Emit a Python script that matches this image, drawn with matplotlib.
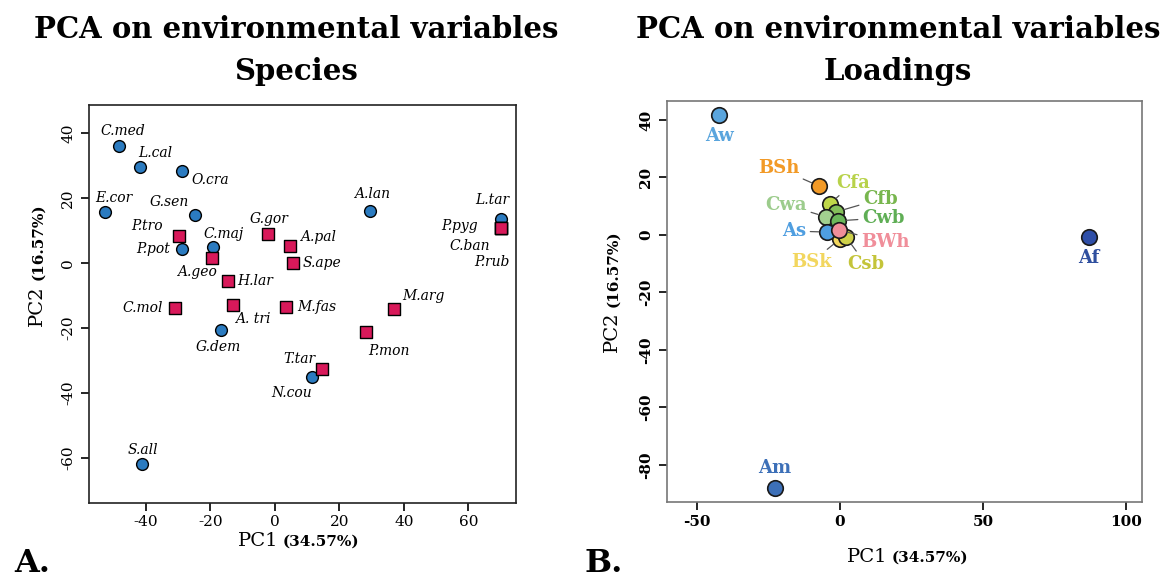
import matplotlib
matplotlib.use("Agg")
import matplotlib.pyplot as plt

# ─── Data: species scores (panel A) ───────────────────────────────────────────
SP_CIRC_NAMES = ["C.med", "L.cal", "O.cra", "E.cor", "G.sen", "P.pot", "C.maj",
                 "G.dem", "N.cou", "S.all", "A.lan", "L.tar"]
SP_CIRC_PC1 = [-48.4, -41.9, -28.9, -52.8, -24.8, -28.9, -19.3,
               -16.8, 11.5, -41.3, 29.5, 70.2]
SP_CIRC_PC2 = [36.0, 29.5, 28.3, 15.7, 14.8, 4.3, 4.9,
               -20.6, -35.1, -61.8, 16.0, 13.5]

SP_SQ_NAMES = ["P.tro", "A.geo", "G.gor", "A.pal", "S.ape", "H.lar", "C.mol",
               "A. tri", "M.fas", "T.tar", "M.arg", "P.mon",
               "P.pyg", "C.ban", "P.rub"]
SP_SQ_PC1 = [-29.8, -19.6, -2.2, 4.7, 5.6, -14.6, -31.1,
             -13.0, 3.4, 14.6, 37.0, 28.3,
             70.2, 70.2, 70.2]
SP_SQ_PC2 = [8.3, 1.5, 8.9, 5.2, 0.0, -5.5, -13.8,
             -12.9, -13.5, -32.6, -14.2, -21.2,
             10.8, 10.8, 10.8]

# ─── Data: loadings (panel B) ─────────────────────────────────────────────────
LD_NAMES = ["Aw", "Am", "Af", "BSh", "Cfa", "Cfb", "Cwa", "Cwb",
            "BSk", "Csb", "As", "BWh"]
LD_PC1 = [-42.3, -22.7, 87.1, -7.3, -3.5, -1.4, -4.9, -0.7,
          0.0, 2.1, -4.5, -0.3]
LD_PC2 = [41.7, -88.0, -0.7, 17.0, 10.8, 8.0, 6.3, 4.9,
          -1.4, -0.7, 1.0, 1.7]

PC1_VAR = "34.57%"
PC2_VAR = "16.57%"

# ─── Style ────────────────────────────────────────────────────────────────────
W, H = 1173, 580
SERIF = "DejaVu Serif"
BLUE = "#2b7bc0"
RED = "#d8195a"
LD_COLORS = {
    "Aw": "#5aa5dd", "Am": "#3d70b8", "Af": "#2f4fa8", "As": "#4f9ee0",
    "BSh": "#f29a27", "BWh": "#f08e9a", "BSk": "#f2d65e", "Csb": "#cfd24a",
    "Cfa": "#c0d84a", "Cfb": "#84c05a", "Cwa": "#a2d08f", "Cwb": "#6bb85a",
}
LD_TEXT = dict(LD_COLORS, Af="#2f4f9f", Csb="#c4c43a", Cfa="#b8d24a",
               Cfb="#78b64e", Cwb="#5fae55", Cwa="#9ccc8c")

# label offsets in pixels (dx, dy up), horizontal alignment
SP_OFF = {
    "C.med": (4, 15, "center"), "L.cal": (15, 14, "center"),
    "O.cra": (10, -9, "left"), "E.cor": (9, 14, "center"),
    "G.sen": (-26, 13, "center"), "P.pot": (-12, 0, "right"),
    "C.maj": (11, 13, "center"), "G.dem": (-2, -17, "center"),
    "N.cou": (-20, -16, "center"), "S.all": (1, 14, "center"),
    "A.lan": (2, 17, "center"), "L.tar": (-9, 19, "center"),
    "P.tro": (-16, 10, "right"), "A.geo": (-15, -14, "center"),
    "G.gor": (1, 15, "center"), "A.pal": (10, 9, "left"),
    "S.ape": (10, 0, "left"), "H.lar": (9, 0, "left"),
    "C.mol": (-12, 0, "right"), "A. tri": (2, -14, "left"),
    "M.fas": (11, 0, "left"), "T.tar": (-23, 10, "center"),
    "M.arg": (29, 13, "center"), "P.mon": (23, -19, "center"),
    "P.pyg": (-42, 2, "center"), "C.ban": (-31, -18, "center"),
    "P.rub": (-9, -34, "center"),
}
LD_OFF = {
    "Aw": (0, -21, "center", False), "Am": (0, 20, "center", False),
    "Af": (0, -21, "center", False),
    "BSh": (-20, 18, "right", True), "Cfa": (6, 21, "left", True),
    "Cfb": (27, 13, "left", True), "Cwa": (-19, 12, "right", True),
    "Cwb": (24, 3, "left", True), "As": (-21, 1, "right", True),
    "BWh": (22, -12, "left", True), "BSk": (-8, -23, "right", True),
    "Csb": (1, -27, "left", True),
}
PT = 72 / 100  # pixels -> points

plt.rcParams["axes.unicode_minus"] = False


def fx(px):
    return px / W


def fy(py):
    return 1 - py / H


def style_axes(ax, edge, bold_ticks):
    for sp in ax.spines.values():
        sp.set_color(edge)
        sp.set_linewidth(1.2)
    ax.tick_params(direction="out", length=6, width=1.2, color="black",
                   labelsize=11, pad=3)
    ax.tick_params(axis="y", labelrotation=90, pad=4)
    for lab in ax.get_yticklabels():
        lab.set_va("center")
    for lab in ax.get_xticklabels() + ax.get_yticklabels():
        lab.set_family(SERIF)
        if bold_ticks:
            lab.set_fontweight("bold")


def axis_labels(fig, x_split, x_base, y_split, y_base):
    fig.text(fx(x_split), fy(x_base), "PC1", ha="right", va="baseline",
             family=SERIF, fontsize=14)
    fig.text(fx(x_split + 5), fy(x_base), f"({PC1_VAR})", ha="left",
             va="baseline", family=SERIF, fontsize=11, fontweight="bold")
    fig.text(fx(y_base), fy(y_split), "PC2", ha="right", va="baseline",
             rotation=90, rotation_mode="anchor", family=SERIF, fontsize=14)
    fig.text(fx(y_base), fy(y_split - 5), f"({PC2_VAR})", ha="left",
             va="baseline", rotation=90, rotation_mode="anchor",
             family=SERIF, fontsize=11, fontweight="bold")


fig = plt.figure(figsize=(W / 100, H / 100), dpi=100)

# ─── Panel A: species ─────────────────────────────────────────────────────────
ax1 = fig.add_axes([fx(89), fy(503), fx(516 - 89), (503 - 105) / H])
ax1.scatter(SP_CIRC_PC1, SP_CIRC_PC2, s=72, marker="o", c=BLUE,
            edgecolors="black", linewidths=1.0, zorder=3)
ax1.scatter(SP_SQ_PC1, SP_SQ_PC2, s=72, marker="s", c=RED,
            edgecolors="black", linewidths=1.0, zorder=4)
for names, xs, ys in [(SP_CIRC_NAMES, SP_CIRC_PC1, SP_CIRC_PC2),
                      (SP_SQ_NAMES, SP_SQ_PC1, SP_SQ_PC2)]:
    for n, x, y in zip(names, xs, ys):
        dx, dy, ha = SP_OFF[n]
        ax1.annotate(n, (x, y), xytext=(dx * PT, dy * PT),
                     textcoords="offset points", ha=ha, va="center",
                     family=SERIF, style="italic", fontsize=10, zorder=5)
ax1.set_xlim(-57.7, 74.8)
ax1.set_ylim(-73.8, 48.6)
ax1.set_xticks([-40, -20, 0, 20, 40, 60])
ax1.set_yticks([-60, -40, -20, 0, 20, 40])
style_axes(ax1, "#222222", False)

# ─── Panel B: loadings ────────────────────────────────────────────────────────
ax2 = fig.add_axes([fx(667), fy(502), fx(1142 - 667), (502 - 101) / H])
for n, x, y in zip(LD_NAMES, LD_PC1, LD_PC2):
    ax2.scatter([x], [y], s=125, marker="o", c=LD_COLORS[n],
                edgecolors="#1a1a1a", linewidths=1.2, zorder=3)
    dx, dy, ha, lead = LD_OFF[n]
    arrow = dict(arrowstyle="-", color="#555555", lw=0.9,
                 shrinkA=1, shrinkB=6) if lead else None
    ax2.annotate(n, (x, y), xytext=(dx * PT, dy * PT),
                 textcoords="offset points", ha=ha, va="center",
                 family=SERIF, fontweight="bold", fontsize=13,
                 color=LD_TEXT[n], arrowprops=arrow, zorder=5)
ax2.set_xlim(-60.5, 105.6)
ax2.set_ylim(-92.9, 46.6)
ax2.set_xticks([-50, 0, 50, 100])
ax2.set_yticks([-80, -60, -40, -20, 0, 20, 40])
style_axes(ax2, "#777777", True)

# ─── Titles, axis labels, panel letters ───────────────────────────────────────
for cx, sub in [(296, "Species"), (898, "Loadings")]:
    fig.text(fx(cx), fy(29), "PCA on environmental variables", ha="center",
             va="center", family=SERIF, fontsize=21, fontweight="bold")
    fig.text(fx(cx), fy(72), sub, ha="center", va="center", family=SERIF,
             fontsize=21, fontweight="bold")

axis_labels(fig, 278, 546, 285, 42)
axis_labels(fig, 887, 562, 312, 617)

fig.text(fx(14), fy(579), "A.", ha="left", va="bottom", family=SERIF,
         fontsize=23, fontweight="bold")
fig.text(fx(584), fy(579), "B.", ha="left", va="bottom", family=SERIF,
         fontsize=23, fontweight="bold")

fig.savefig("out.png", dpi=100, facecolor="white")
